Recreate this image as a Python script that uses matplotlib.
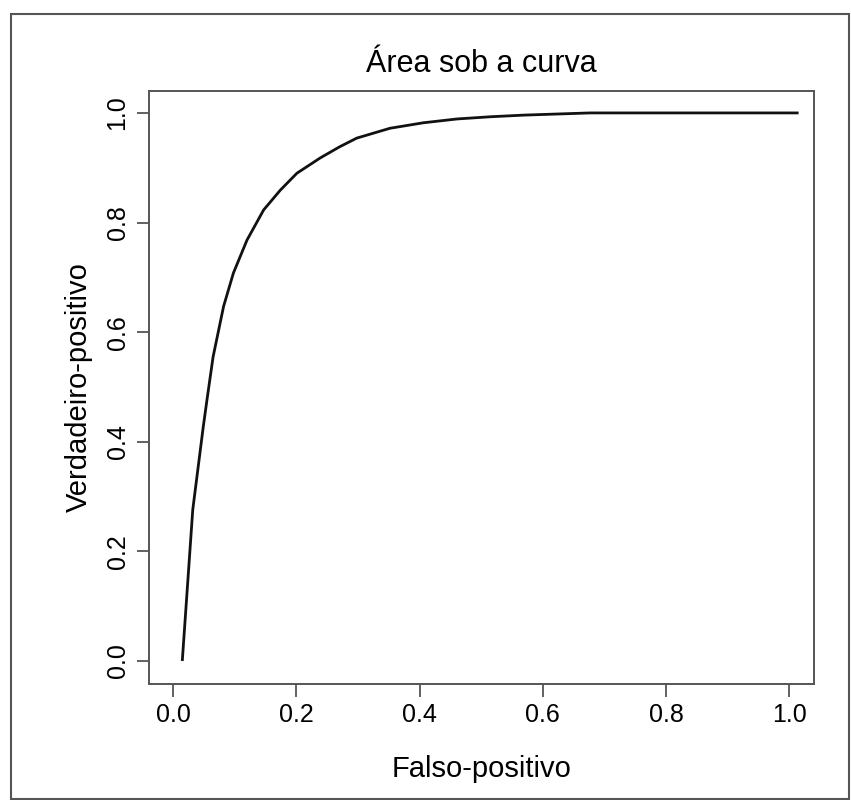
import matplotlib
matplotlib.use("Agg")
import matplotlib.pyplot as plt
from matplotlib.patches import Rectangle

plt.rcParams['font.family'] = ['Liberation Sans', 'DejaVu Sans']

title = "Área sob a curva"
xlabel = "Falso-positivo"
ylabel = "Verdadeiro-positivo"
ticks = [0.0, 0.2, 0.4, 0.6, 0.8, 1.0]
tick_labels = ["0.0", "0.2", "0.4", "0.6", "0.8", "1.0"]

false_pos = [0.015, 0.032, 0.049, 0.055, 0.065, 0.082, 0.098, 0.120, 0.147, 0.174,
             0.201, 0.239, 0.270, 0.298, 0.352, 0.406, 0.461, 0.515, 0.569, 0.623,
             0.677, 0.75, 0.85, 0.95, 1.015]
true_pos = [0.0, 0.276, 0.427, 0.476, 0.555, 0.647, 0.708, 0.768, 0.823, 0.859,
            0.890, 0.918, 0.938, 0.954, 0.972, 0.982, 0.989, 0.993, 0.996, 0.998,
            1.0, 1.0, 1.0, 1.0, 1.0]

W, H = 851, 800
fig = plt.figure(figsize=(W / 100, H / 100), dpi=100)
fig.patch.set_facecolor('white')

# outer frame
fig.patches.append(Rectangle((11 / W, 1 - 799 / H), (849 - 11) / W, (799 - 14) / H,
                             transform=fig.transFigure, fill=False,
                             edgecolor='#555555', linewidth=1.5))

ax = fig.add_axes([149 / W, 1 - 684 / H, (814 - 149) / W, (684 - 91) / H])
ax.plot(false_pos, true_pos, color='#111111', linewidth=2.0,
        solid_joinstyle='round', solid_capstyle='butt')

ax.set_xlim(-0.039, 1.04)
ax.set_ylim(-0.042, 1.04)
ax.set_xticks(ticks)
ax.set_xticklabels(tick_labels, fontsize=18)
ax.set_yticks(ticks)
ax.set_yticklabels(tick_labels, fontsize=18, rotation=90, va='center')
ax.tick_params(direction='out', length=9, width=1.3, color='#555555', pad=5)

for s in ax.spines.values():
    s.set_color('#555555')
    s.set_linewidth(1.4)

ax.set_title(title, fontsize=22, pad=14)
ax.set_xlabel(xlabel, fontsize=21, labelpad=20)
ax.set_ylabel(ylabel, fontsize=21, labelpad=9)

fig.savefig("out.png", dpi=100, facecolor='white')
